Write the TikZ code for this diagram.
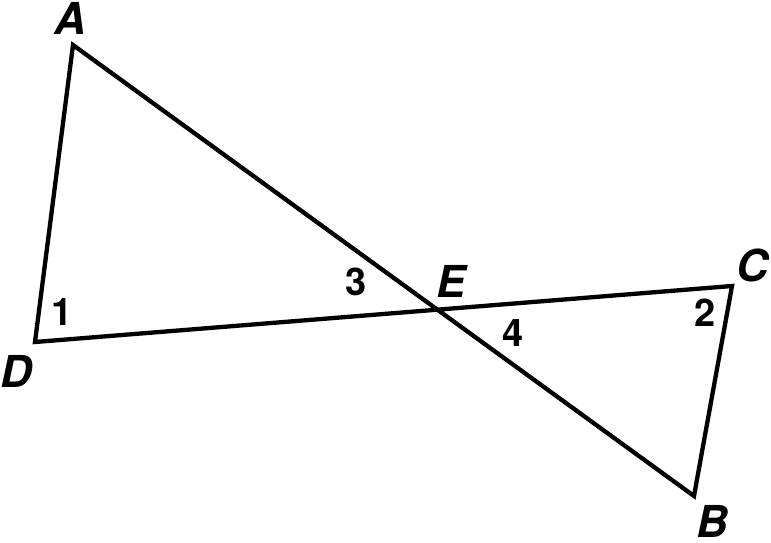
\documentclass[tikz,border=0pt]{standalone}
\usepackage{fontspec}
\setmainfont{TeX Gyre Heros}
\begin{document}
\begin{tikzpicture}[x=1pt,y=-1pt,
  edge/.style={line width=4.3pt,line join=miter,black},
  vlabel/.style={inner sep=0pt,font=\fontsize{44}{44}\selectfont\bfseries\itshape},
  alabel/.style={inner sep=0pt,font=\fontsize{38}{38}\selectfont\bfseries}]
\useasboundingbox (0,0) rectangle (771,543);
\coordinate (A) at (73,45);
\coordinate (D) at (35,342);
\coordinate (C) at (732,286);
\coordinate (B) at (694,496);
\draw[edge] (A) -- (D) -- (C) -- (B) -- cycle;
\node[vlabel] (lA) at (70,18) {A};
\node[vlabel] (lD) at (16,371) {D};
\node[vlabel] (lC) at (752,265) {C};
\node[vlabel] (lB) at (712,521) {B};
\node[vlabel] (lE) at (451,281) {E};
\node[alabel] (l1) at (62,312) {1};
\node[alabel] (l2) at (705,313) {2};
\node[alabel] (l3) at (356,282) {3};
\node[alabel] (l4) at (513,333) {4};
\end{tikzpicture}
\end{document}
